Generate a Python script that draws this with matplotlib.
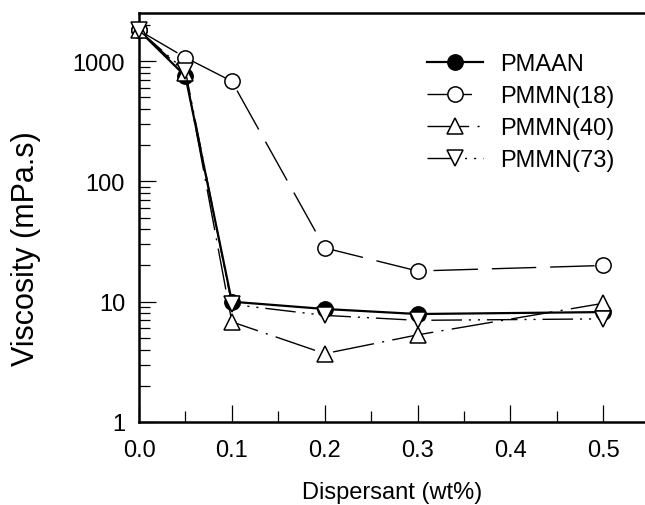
import matplotlib.pyplot as plt
from matplotlib.ticker import MultipleLocator, LogLocator, NullFormatter, FixedLocator

plt.rcParams['font.family'] = ['Liberation Sans', 'DejaVu Sans']

# data
dispersant = [0.0, 0.05, 0.1, 0.2, 0.3, 0.5]
pmaan = [1800, 750, 10.0, 8.7, 7.9, 8.2]
pmmn18 = [1800, 1070, 680, 28, 18, 20]
pmmn40 = [1800, 800, 6.8, 3.7, 5.3, 9.7]
pmmn73 = [1800, 830, 9.5, 7.7, 7.0, 7.2]

series = [
    ("PMAAN", pmaan, "o", "black", "-", 1.6),
    ("PMMN(18)", pmmn18, "o", "white", (0, (32, 10)), 1.0),
    ("PMMN(40)", pmmn40, "^", "white", (0, (30, 6, 1.5, 6)), 1.0),
    ("PMMN(73)", pmmn73, "v", "white", (0, (22, 5, 1.5, 5, 1.5, 5)), 1.0),
]

fig = plt.figure(figsize=(6.45, 5.06), dpi=100)
ax = fig.add_axes([139 / 645, 1 - 423 / 506, 1 - 139 / 645, (423 - 14) / 506])

for name, vals, mk, fc, ls, lw in series:
    ax.plot(dispersant, vals, linestyle=ls, linewidth=lw, color="black",
            marker=mk, markersize=11, markerfacecolor=fc,
            markeredgecolor="black", markeredgewidth=1.1,
            label=name, clip_on=False, zorder=3)

ax.set_yscale("log")
ax.set_ylim(1, 10 ** 3.4)
ax.set_xlim(0, 0.545)

ax.xaxis.set_major_locator(MultipleLocator(0.1))
ax.xaxis.set_minor_locator(FixedLocator([0.05, 0.15, 0.25, 0.35, 0.45]))
ax.yaxis.set_minor_locator(LogLocator(base=10, subs=range(2, 10), numticks=10))
ax.yaxis.set_minor_formatter(NullFormatter())
ax.set_yticks([1, 10, 100, 1000])
ax.set_yticklabels(["1", "10", "100", "1000"])
ax.set_xticklabels(["%.1f" % v for v in ax.get_xticks()])

ax.tick_params(axis="both", which="major", direction="in", length=12, width=0.9,
               labelsize=17, top=False, right=False)
ax.tick_params(axis="y", which="major", pad=10)
ax.tick_params(axis="x", which="major", pad=12)
ax.tick_params(axis="both", which="minor", direction="in", length=8, width=0.9,
               top=False, right=False)

ax.spines["right"].set_visible(False)
for s in ["left", "bottom", "top"]:
    ax.spines[s].set_linewidth(1.8)

ax.set_xlabel("Dispersant (wt%)", fontsize=17, labelpad=15)
fig.text(0.040, 1 - 249 / 506, "Viscosity (mPa.s)", fontsize=22,
         rotation=90, ha="center", va="center")

leg = ax.legend(loc="upper left", bbox_to_anchor=(0.55, 0.925), frameon=False,
                fontsize=17, handlelength=2.4, handletextpad=0.7,
                labelspacing=0.42, borderaxespad=0)

fig.savefig("out.png", dpi=100)
